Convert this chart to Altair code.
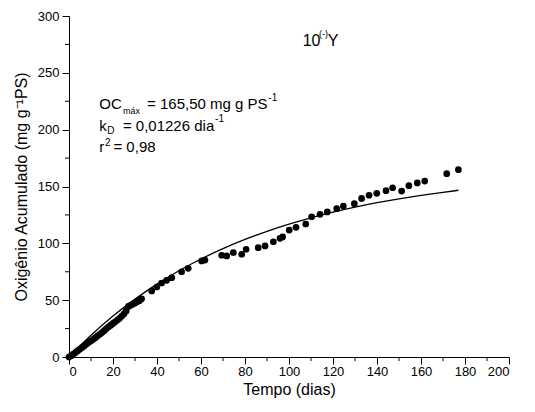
import altair as alt
import pandas as pd

# observed data (days, accumulated oxygen)
t_obs = [0, 1, 2, 3, 4, 5, 6, 7, 8, 9, 10, 11, 12, 13, 14, 15, 16, 17, 18, 19, 20,
         21, 22, 23, 24, 25, 26, 27, 28, 29, 30, 31, 32, 33,
         37.6, 39.9, 42.1, 44.4, 46.7, 51.2, 54.2, 60.3, 61.8, 69.4, 71.7, 74.7, 78.5,
         80.5, 86.0, 89.1, 92.9, 95.9, 97.1, 100.1, 103.2, 107.6, 110.3, 114.1, 117.4,
         121.7, 124.7, 129.7, 133.0, 136.4, 139.9, 144.1, 147.1, 151.2, 154.5, 158.3,
         161.7, 171.7, 177.0]
oc_obs = [0, 1.2, 2.6, 4, 5.6, 7, 8.4, 10, 11.5, 13, 14.2, 15.6, 17, 18.6, 20, 21.5, 23.2, 25, 26.6, 28, 29.5,
          31, 32.5, 34, 36, 38, 40.5, 44.5, 45.5, 46.5, 47.5, 48.5, 49.5, 51.2,
          58.1, 61.6, 65.1, 67.5, 69.8, 75.0, 78.0, 84.5, 85.3, 89.5, 88.9, 91.8, 90.4,
          94.8, 96.2, 97.7, 101.4, 104.4, 105.6, 111.7, 114.1, 117.0, 123.4, 125.5, 127.6,
          130.5, 132.8, 134.9, 139.5, 142.3, 144.0, 146.3, 148.9, 146.0, 150.7, 153.1,
          154.8, 161.3, 164.8]

# fitted curve
t_fit = [0, 10, 20, 30, 40, 50, 60, 70, 80, 90, 100, 110, 120, 130, 140, 150, 160, 170, 177]
oc_fit = [0, 19.1, 36.0, 50.9, 64.1, 75.9, 86.2, 95.3, 103.4, 110.6, 116.9, 122.5, 127.5,
          131.9, 135.8, 139.2, 142.2, 144.8, 146.7]

x_major = [0, 20, 40, 60, 80, 100, 120, 140, 160, 180, 200]
x_minor = [10, 30, 50, 70, 90, 110, 130, 150, 170, 190]
y_major = [0, 50, 100, 150, 200, 250, 300]
y_minor = [25, 75, 125, 175, 225, 275]

# annotation pieces (text, x, y in data units, font size)
ann_text = ["10", "(-)", "Y",
            "OC", "máx", "= 165,50 mg g PS", "-1",
            "k", "D", "= 0,01226 dia", "-1",
            "r", "2", "= 0,98"]
ann_x = [106.2, 113.6, 117.6,
         13.8, 24.5, 35.5, 90.6,
         13.8, 17.4, 24.5, 66.4,
         13.8, 16.4, 20.2]
ann_y = [273.3, 281.5, 273.3,
         217.9, 213.5, 217.9, 225.5,
         199.0, 196.2, 199.0, 206.5,
         180.1, 186.0, 180.1]
ann_fs = [16, 9, 16,
          15, 9, 15, 10,
          15, 10, 15, 10,
          15, 10, 15]

W, H = 440, 341
FONT = "Liberation Sans"

obs = pd.DataFrame({"t": t_obs, "oc": oc_obs})
fit = pd.DataFrame({"t": t_fit, "oc": oc_fit})
ann = pd.DataFrame({"text": ann_text, "x": ann_x, "y": ann_y, "fs": ann_fs})

xs = alt.Scale(domain=[0, 200], nice=False, zero=False)
ys = alt.Scale(domain=[0, 300], nice=False, zero=False)

xaxis = alt.Axis(values=x_major, title="Tempo (dias)", grid=False, tickSize=7,
                 labelPadding=1, titlePadding=3)
yaxis = alt.Axis(values=y_major, title="Oxigênio Acumulado (mg g⁻¹PS)", grid=False,
                 tickSize=7, labelPadding=3, titlePadding=8)

points = alt.Chart(obs).mark_circle(color="black", opacity=1, size=45).encode(
    x=alt.X("t:Q", scale=xs, axis=xaxis),
    y=alt.Y("oc:Q", scale=ys, axis=yaxis),
)

curve = alt.Chart(fit).mark_line(color="black", strokeWidth=1.3, interpolate="monotone").encode(
    x=alt.X("t:Q", scale=xs),
    y=alt.Y("oc:Q", scale=ys),
)

xminor = alt.Chart(pd.DataFrame({"v": x_minor})).mark_rule(color="black", strokeWidth=1).encode(
    x=alt.X("v:Q", scale=xs),
    y=alt.value(H),
    y2=alt.value(H + 4),
)
yminor = alt.Chart(pd.DataFrame({"v": y_minor})).mark_rule(color="black", strokeWidth=1).encode(
    y=alt.Y("v:Q", scale=ys),
    x=alt.value(-4),
    x2=alt.value(0),
)

texts = alt.Chart(ann).mark_text(align="left", baseline="alphabetic", font=FONT,
                                 color="black").encode(
    x=alt.X("x:Q", scale=xs),
    y=alt.Y("y:Q", scale=ys),
    text="text:N",
    size=alt.Size("fs:Q", scale=None, legend=None),
)

chart = alt.layer(curve, points, xminor, yminor, texts).properties(
    width=W, height=H,
    autosize=alt.AutoSizeParams(type="none"),
    padding={"left": 61, "top": 8, "right": 18, "bottom": 47},
    background="white",
).configure_view(stroke=None).configure_axis(
    domainColor="black", tickColor="black", labelColor="black", titleColor="black",
    labelFont=FONT, titleFont=FONT, labelFontSize=13, titleFontSize=16,
    titleFontWeight="normal", domainWidth=1, tickWidth=1,
)

chart.save("out.html", embed_options={"renderer": "svg", "actions": False})
